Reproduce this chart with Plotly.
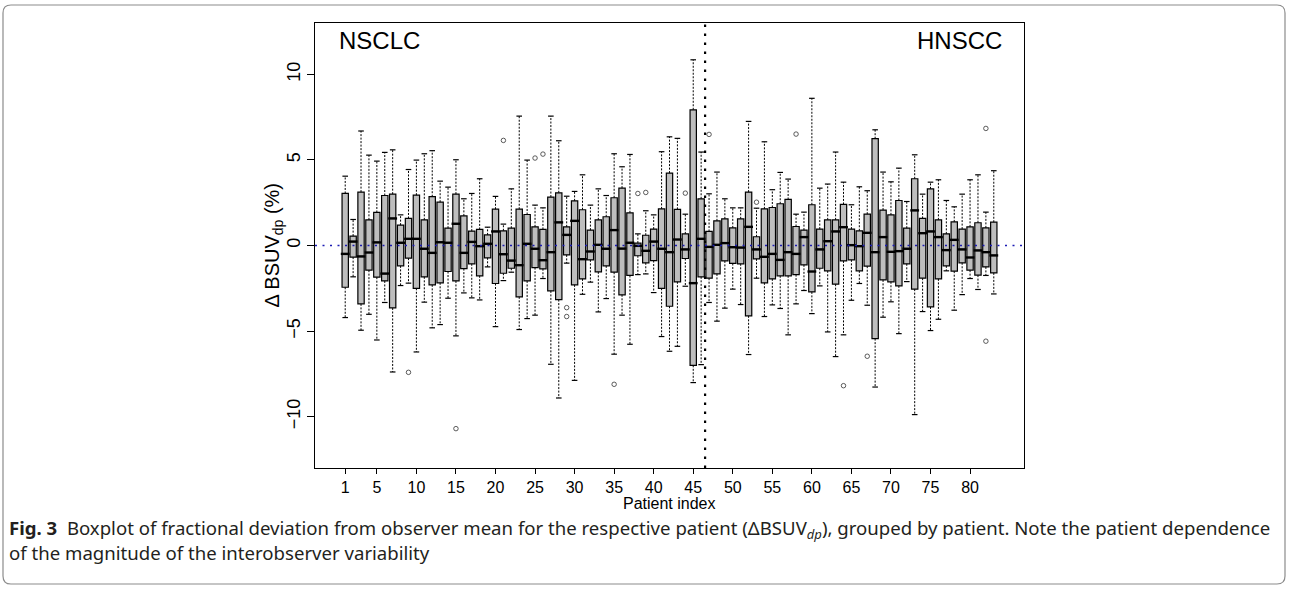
import plotly.graph_objects as go

# ---------------- data ----------------
patient = list(range(1, 84))
whisker_hi = [4.05, 1.52, 6.69, 5.28, 4.93, 5.44, 5.59, 1.79, 4.44, 4.99, 5.36, 5.54, 3.76, 3.41, 5.01, 2.73, 3.04, 3.90, 1.07, 2.87,
              1.25, 3.31, 7.56, 4.99, 2.36, 2.20, 7.56, 6.12, 2.88, 3.16, 4.13, 2.36, 3.31, 2.92, 5.36, 4.60, 5.32, 0.68, 2.03, 1.79,
              5.48, 6.35, 6.26, 1.83, 10.85, 5.46, 3.02, 4.29, 2.73, 2.20, 2.20, 7.25, 2.18, 6.06, 3.26, 4.27, 3.88, 1.83, 1.95, 8.60,
              3.35, 3.59, 5.46, 3.70, 2.38, 3.43, 3.20, 6.76, 4.29, 3.72, 4.52, 2.57, 5.30, 3.00, 3.70, 3.84, 2.63, 2.26, 3.00, 3.84,
              4.13, 1.95, 4.37]
q3 = [3.04, 0.55, 3.12, 1.50, 1.93, 2.92, 3.00, 1.19, 1.58, 2.94, 1.50, 2.85, 2.53, 1.01, 3.00, 1.73, 0.84, 0.94, 0.62, 2.12,
      0.86, 1.01, 2.12, 1.81, 1.09, 0.94, 2.83, 3.08, 1.09, 2.61, 2.09, 0.90, 1.50, 1.68, 2.79, 3.35, 1.91, 0.14, 0.60, 0.96,
      2.14, 4.23, 2.11, 0.68, 7.93, 2.73, 0.82, 1.44, 1.56, 1.03, 1.56, 3.12, 0.51, 2.14, 2.22, 2.44, 2.69, 1.11, 0.90, 2.38,
      0.96, 1.50, 1.50, 2.40, 0.96, 0.86, 1.83, 6.24, 2.07, 1.79, 2.63, 1.01, 3.90, 1.58, 3.31, 1.50, 0.68, 1.38, 0.96, 1.09,
      1.33, 1.03, 1.36]
median = [-0.49, 0.23, -0.64, -0.41, 0.18, -1.64, 1.58, 0.16, 0.39, 0.39, -0.19, -0.43, 0.19, 0.16, 1.27, -0.43, 0.21, -0.04, 0.10, 0.82,
          -0.51, -0.88, -1.15, 0.10, -0.19, -0.86, -0.39, 1.35, 0.62, 1.44, -0.80, -0.35, 0.04, -0.19, 0.90, -0.18, 0.16, -0.02, -0.31, 0.23,
          -0.19, -0.39, 0.35, -0.23, -2.20, 0.39, -0.08, 0.04, 0.14, -0.10, -0.12, 1.09, -0.23, -0.66, -0.49, -0.84, -0.39, -0.49, 0.49, -1.52,
          -0.23, 0.25, 0.82, 1.07, 0.02, -0.04, 0.74, -0.39, 0.49, -0.37, -0.33, -0.19, 2.05, 0.72, 0.82, 0.49, -0.27, 0.33, -0.23, -0.70,
          -0.29, -0.39, -0.58]
q1 = [-2.44, -0.68, -3.41, -1.44, -1.85, -2.07, -3.65, -1.19, -0.74, -2.50, -1.83, -2.30, -2.18, -1.52, -2.07, -1.35, -1.07, -1.77, -0.72, -2.22,
      -1.62, -1.33, -3.00, -2.07, -1.29, -1.36, -2.65, -3.16, -0.55, -2.30, -1.95, -0.84, -1.54, -1.19, -1.56, -2.88, -1.75, -0.60, -1.01, -0.88,
      -2.50, -3.55, -2.12, -0.76, -7.00, -1.83, -1.91, -1.66, -0.90, -1.05, -1.07, -4.11, -0.78, -2.18, -1.95, -1.77, -1.77, -1.70, -1.13, -2.71,
      -1.33, -1.48, -2.26, -0.90, -0.84, -1.48, -1.21, -5.44, -2.01, -2.12, -2.36, -1.07, -2.55, -1.91, -3.59, -1.95, -1.19, -1.50, -1.01, -1.44,
      -1.73, -1.25, -1.60]
whisker_lo = [-4.21, -1.83, -4.95, -4.02, -5.52, -3.33, -7.39, -2.34, -2.20, -6.22, -3.31, -4.81, -4.62, -3.08, -5.28, -2.77, -3.06, -3.18, -1.25, -4.74,
              -2.05, -1.56, -4.91, -4.27, -4.07, -1.93, -6.94, -8.91, -1.03, -7.88, -2.85, -2.14, -3.88, -3.10, -6.35, -4.07, -5.77, -1.70, -1.66, -2.75,
              -5.32, -6.18, -5.89, -2.38, -8.01, -6.96, -3.33, -4.42, -3.66, -2.55, -3.45, -6.37, -1.91, -4.15, -3.47, -3.68, -5.22, -3.41, -2.63, -3.98,
              -2.36, -5.05, -6.49, -5.22, -3.20, -2.22, -3.49, -8.27, -4.19, -3.29, -5.15, -2.11, -9.88, -3.86, -4.97, -4.31, -1.48, -3.78, -2.87, -1.93,
              -2.57, -1.75, -2.83]
outlier_patient = [9, 15, 21, 25, 26, 29, 29, 35, 38, 39, 44, 47, 53, 58, 64, 67, 82, 82]
outlier_value = [-7.41, -10.70, 6.14, 5.11, 5.34, -3.63, -4.15, -8.11, 3.04, 3.10, 3.06, 6.49, 2.53, 6.51, -8.19, -6.47, 6.84, -5.59]
x_ticks = [1, 5, 10, 15, 20, 25, 30, 35, 40, 45, 50, 55, 60, 65, 70, 75, 80]
y_ticks = [-10, -5, 0, 5, 10]
n_nsclc = 46

# ---------------- geometry (pixels) ----------------
W, H = 1290, 591
L, R, T, B = 315, 1024, 23, 468
XR = [-2.82, 86.82]
YR = [-13, 13]


def px(xpix):
    return (xpix - L) / (R - L)


def py(ypix):
    return (B - ypix) / (B - T)


fig = go.Figure()

# whiskers (dashed) built from the data
wx, wy = [], []
for p, lo, a, b, hi in zip(patient, whisker_lo, q1, q3, whisker_hi):
    wx += [p, p, None, p, p, None]
    wy += [b, hi, None, a, lo, None]
fig.add_trace(go.Scatter(x=wx, y=wy, mode="lines", line=dict(color="black", width=1, dash="2px,1.5px"),
                         hoverinfo="skip", showlegend=False))

# staples
fig.add_trace(go.Scatter(x=patient + patient, y=whisker_hi + whisker_lo, mode="markers",
                         marker=dict(symbol="line-ew", size=4, line=dict(color="black", width=1.2)),
                         hoverinfo="skip", showlegend=False))

# boxes
fig.add_trace(go.Box(x=patient, q1=q1, median=median, q3=q3, lowerfence=q1, upperfence=q3,
                     orientation="v", width=0.8, whiskerwidth=0,
                     fillcolor="#bebebe", line=dict(color="black", width=1.2),
                     boxpoints=False, showlegend=False))

# thick median lines
fig.add_trace(go.Scatter(x=patient, y=median, mode="markers",
                         marker=dict(symbol="line-ew", size=6.3, line=dict(color="black", width=2.4)),
                         hoverinfo="skip", showlegend=False))

# outliers
fig.add_trace(go.Scatter(x=outlier_patient, y=outlier_value, mode="markers",
                         marker=dict(symbol="circle-open", size=4.5, color="#333333", line=dict(width=0.8)),
                         showlegend=False))

shapes = [
    # zero reference line
    dict(type="line", xref="paper", yref="y", x0=0, x1=1, y0=0, y1=0,
         line=dict(color="#1c1cb4", width=1.6, dash="2px,5.5px")),
    # group separator
    dict(type="line", xref="x", yref="paper", x0=n_nsclc + 0.5, x1=n_nsclc + 0.5, y0=0, y1=1,
         line=dict(color="black", width=2.2, dash="2.5px,6.5px")),
]
# rounded figure frame
x0, x1, y0, y1 = px(3), px(1285), py(584), py(5)
rx, ry = 8 / (R - L), 8 / (B - T)
path = (f"M {x0+rx},{y1} L {x1-rx},{y1} Q {x1},{y1} {x1},{y1-ry} L {x1},{y0+ry} Q {x1},{y0} {x1-rx},{y0} "
        f"L {x0+rx},{y0} Q {x0},{y0} {x0},{y0+ry} L {x0},{y1-ry} Q {x0},{y1} {x0+rx},{y1} Z")
shapes.append(dict(type="path", xref="paper", yref="paper", path=path, line=dict(color="#8c8c8c", width=1.2)))

font_main = "Liberation Sans, Arial, sans-serif"
cap_font = dict(family="Noto Sans, Open Sans, sans-serif", size=18.6, color="#231f20")
annotations = [
    dict(text="NSCLC", xref="paper", yref="y", x=px(337), y=12, xanchor="left", yanchor="middle",
         showarrow=False, font=dict(family=font_main, size=24, color="black")),
    dict(text="HNSCC", xref="paper", yref="y", x=px(1004), y=12, xanchor="right", yanchor="middle",
         showarrow=False, font=dict(family=font_main, size=24, color="black")),
    dict(text="Δ BSUV<sub>dp</sub> (%)", xref="paper", yref="paper", x=px(273), y=0.5, textangle=-90,
         xanchor="center", yanchor="middle", showarrow=False, font=dict(family=font_main, size=20, color="black")),
    dict(text="Patient index", xref="paper", yref="paper", x=0.5, y=py(503), xanchor="center", yanchor="middle",
         showarrow=False, font=dict(family=font_main, size=16, color="black")),
    dict(text="<b>Fig. 3</b>  Boxplot of fractional deviation from observer mean for the respective patient (ΔBSUV<sub><i>dp</i></sub>), grouped by patient. Note the patient dependence",
         xref="paper", yref="paper", x=px(7), y=py(529), xanchor="left", yanchor="middle",
         showarrow=False, font=cap_font),
    dict(text="of the magnitude of the interobserver variability",
         xref="paper", yref="paper", x=px(7), y=py(552), xanchor="left", yanchor="middle",
         showarrow=False, font=cap_font),
]

fig.update_layout(
    width=W, height=H, autosize=False,
    margin=dict(l=L, r=W - R, t=T, b=H - B, pad=0),
    plot_bgcolor="white", paper_bgcolor="white",
    shapes=shapes, annotations=annotations, showlegend=False,
    xaxis=dict(range=XR, tickmode="array", tickvals=x_ticks, ticktext=[str(v) for v in x_ticks],
               ticks="outside", ticklen=5, tickwidth=1, tickcolor="black",
               showline=True, mirror=True, linecolor="black", linewidth=1.2,
               showgrid=False, zeroline=False,
               tickfont=dict(family=font_main, size=16, color="black")),
    yaxis=dict(range=YR, tickmode="array", tickvals=y_ticks, ticktext=[str(v).replace("-", "−") for v in y_ticks],
               tickangle=-90, ticks="outside", ticklen=7, tickwidth=1, tickcolor="black",
               showline=True, mirror=True, linecolor="black", linewidth=1.2,
               showgrid=False, zeroline=False,
               tickfont=dict(family=font_main, size=18, color="black")),
)

fig.write_html("out.html", config={"displayModeBar": False},
               post_script="document.body.style.margin='0px';document.body.style.overflow='hidden';")
